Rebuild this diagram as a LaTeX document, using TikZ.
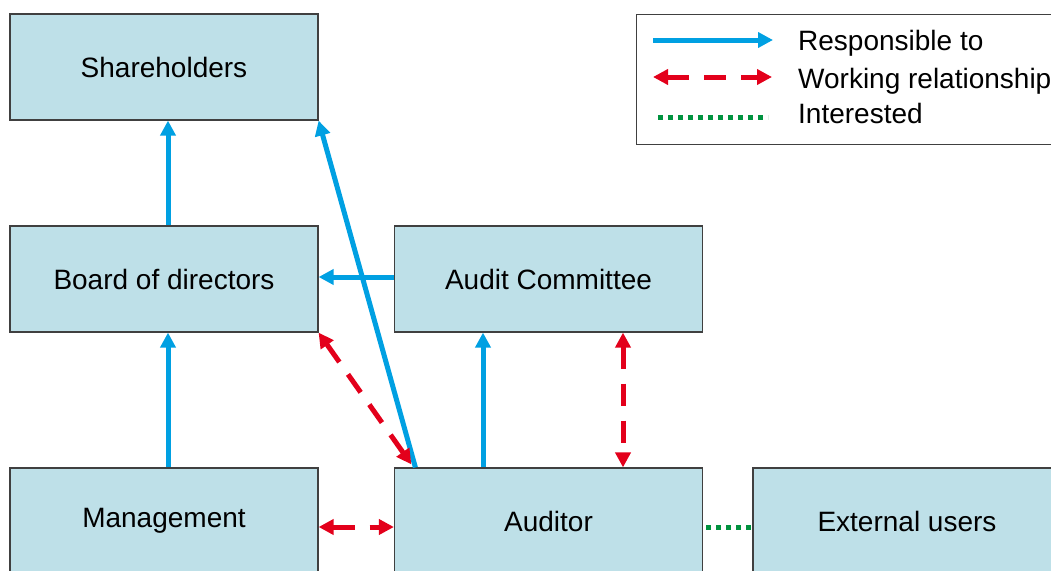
\documentclass[tikz,border=0pt]{standalone}
\usepackage{fontspec}
\setmainfont{Liberation Sans}
\usetikzlibrary{arrows.meta,calc}
\definecolor{boxfill}{RGB}{190,224,232}
\definecolor{boxline}{RGB}{64,64,64}
\definecolor{respblue}{RGB}{0,160,226}
\definecolor{workred}{RGB}{227,0,27}
\definecolor{intgreen}{RGB}{0,146,63}
\begin{document}
\begin{tikzpicture}[x=1pt,y=-1pt,
  entity/.style={draw=boxline,line width=1.2pt,fill=boxfill,minimum width=308pt,
    minimum height=106pt,inner sep=0pt,font=\fontsize{28}{32}\selectfont},
  resp/.style={draw=respblue,line width=5pt,-{Triangle[length=15pt,width=15pt]}},
  work/.style={draw=workred,line width=5pt,dash pattern=on 22pt off 15pt,
    {Triangle[length=15pt,width=15pt]}-{Triangle[length=15pt,width=15pt]}},
  interest/.style={draw=intgreen,line width=5pt,dash pattern=on 5pt off 5pt},
  legtext/.style={anchor=base west,inner sep=0pt,font=\fontsize{28}{32}\selectfont}]

\useasboundingbox (0,0) rectangle (1051,570);

% organisation boxes
\node[entity] (sh)  at (164,67)    {Shareholders};
\node[entity] (bod) at (164,279)   {Board of directors};
\node[entity] (ac)  at (548.5,279) {Audit Committee};
\node[entity] (mg)  at (164,521)   {Management};
\node[entity] (aud) at (548.5,521) {Auditor};
\node[entity] (ext) at (907,521)   {External users};

% responsible to
\draw[resp] ($(bod.north)+(4,0)$) -- ($(sh.south)+(4,0)$);
\draw[resp] ($(mg.north)+(4,0)$) -- ($(bod.south)+(4,0)$);
\draw[resp] ($(aud.north west)+(21.5,0)$) -- (sh.south east);
\draw[resp] ($(ac.west)+(0,-2)$) -- ($(bod.east)+(0,-2)$);
\draw[resp] ($(aud.north)+(-65.5,0)$) -- ($(ac.south)+(-65.5,0)$);

% working relationships
\draw[work] (bod.south east) -- ($(aud.north west)+(17.5,-3)$);
\draw[work] ($(ac.south)+(74.5,0)$) -- ($(aud.north)+(74.5,0)$);
\draw[work] ($(mg.east)+(0,6)$) -- ($(aud.west)+(0,6)$);

% interested
\draw[interest] ($(aud.east)+(3,6)$) -- ($(ext.west)+(0,6)$);

% legend
\node[draw=boxline,line width=1.2pt,anchor=north west,minimum width=430pt,
  minimum height=130pt,inner sep=0pt] (legend) at (636,14) {};
\coordinate (lr1) at (653,40);  \coordinate (lr2) at (773,40);
\coordinate (lw1) at (653,77);  \coordinate (lw2) at (772,77);
\coordinate (li1) at (658,117); \coordinate (li2) at (768,117);
\draw[resp] (lr1) -- (lr2);
\draw[work] (lw1) -- (lw2);
\draw[interest] (li1) -- (li2);
\node[legtext] (t1) at (798,50)  {Responsible to};
\node[legtext] (t2) at (798,88)  {Working relationship};
\node[legtext] (t3) at (798,123) {Interested};
\end{tikzpicture}
\end{document}
